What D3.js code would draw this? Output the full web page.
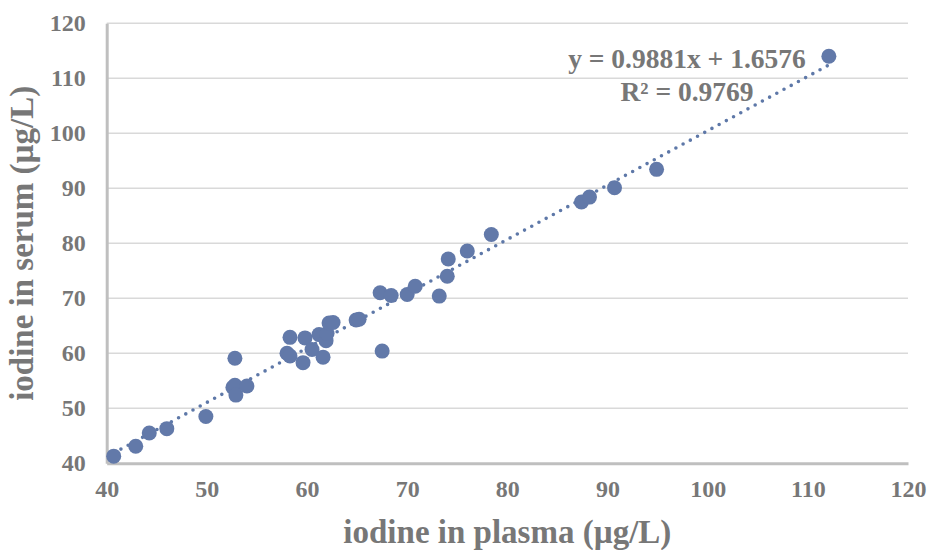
<!DOCTYPE html>
<html>
<head>
<meta charset="utf-8">
<script src="https://cdn.jsdelivr.net/npm/d3@7"></script>
<style>
  html, body { margin: 0; padding: 0; background: #ffffff; }
  svg { display: block; }
  text { font-family: "Liberation Serif", "Times New Roman", serif; font-weight: bold; fill: #777777; }
</style>
</head>
<body>
<svg id="chart" width="929" height="550"></svg>
<script>
// ---- data ----
const plasma = [40.7, 42.9, 44.25, 46.0, 49.9, 52.8, 52.6, 52.8, 52.9, 54.0,
                58.3, 59.8, 58.0, 58.3, 59.6, 60.5, 61.2, 61.6, 61.9, 62.0,
                62.2, 62.6, 64.9, 65.2, 67.3, 68.4, 70.0, 70.8, 73.2, 74.0,
                67.5, 74.1, 76.0, 78.4, 87.4, 88.2, 90.7, 94.9, 112.1];
const serum  = [41.3, 43.1, 45.5, 46.3, 48.5, 59.1, 53.8, 54.2, 52.4, 54.05,
                62.9, 62.8, 60.0, 59.5, 58.3, 60.7, 63.4, 59.3, 62.3, 63.6,
                65.5, 65.6, 66.05, 66.2, 71.0, 70.5, 70.7, 72.2, 70.4, 74.0,
                60.4, 77.15, 78.6, 81.6, 87.5, 88.4, 90.1, 93.45, 114.0];
const xTicks = [40, 50, 60, 70, 80, 90, 100, 110, 120];
const yTicks = [40, 50, 60, 70, 80, 90, 100, 110, 120];
const slope = 0.9881, intercept = 1.6576;
const eqLabel = "y = 0.9881x + 1.6576";
const r2Label = "R² = 0.9769";
const xTitle = "iodine in plasma (µg/L)";
const yTitle = "iodine in serum (µg/L)";

// ---- layout ----
const svg = d3.select("#chart");
const L = 106.7, R = 908, T = 23.3, B = 463.3;
const x = d3.scaleLinear().domain([40, 120]).range([L, R]);
const y = d3.scaleLinear().domain([40, 120]).range([B, T]);

// gridlines
svg.append("g").selectAll("line").data(yTicks.filter(d => d > 40)).join("line")
  .attr("x1", L).attr("x2", R)
  .attr("y1", d => y(d)).attr("y2", d => y(d))
  .attr("stroke", "#d9d9d9").attr("stroke-width", 1.5);

// axes
const xAxis = d3.axisBottom(x).tickValues(xTicks).tickSize(0).tickPadding(17);
const gx = svg.append("g").attr("transform", `translate(0,${B})`).call(xAxis);
gx.select(".domain").attr("stroke", "#bfbfbf").attr("stroke-width", 3);
gx.selectAll("text").attr("font-size", 24).attr("fill", "#777777")
  .attr("font-family", "Liberation Serif, Times New Roman, serif");

const yAxis = d3.axisLeft(y).tickValues(yTicks).tickSize(0).tickPadding(21);
const gy = svg.append("g").attr("transform", `translate(${L},0)`).call(yAxis);
gy.select(".domain").attr("stroke", "#bfbfbf").attr("stroke-width", 3);
gy.selectAll("text").attr("font-size", 24).attr("fill", "#777777")
  .attr("font-family", "Liberation Serif, Times New Roman, serif");

// trendline (dotted)
const xmin = d3.min(plasma), xmax = d3.max(plasma);
svg.append("line")
  .attr("x1", x(xmin)).attr("y1", y(slope * xmin + intercept))
  .attr("x2", x(xmax)).attr("y2", y(slope * xmax + intercept))
  .attr("stroke", "#5e78a8").attr("stroke-width", 3.6)
  .attr("stroke-linecap", "round").attr("stroke-dasharray", "0 8.2");

// points
svg.append("g").selectAll("circle").data(plasma.map((p, i) => [p, serum[i]])).join("circle")
  .attr("cx", d => x(d[0])).attr("cy", d => y(d[1])).attr("r", 7.5)
  .attr("fill", "#6279a9");

// equation
svg.append("text").attr("x", 687).attr("y", 68).attr("text-anchor", "middle")
  .attr("font-size", 27.5).text(eqLabel);
svg.append("text").attr("x", 687).attr("y", 101).attr("text-anchor", "middle")
  .attr("font-size", 27.5).text(r2Label);

// axis titles
svg.append("text").attr("x", (L + R) / 2).attr("y", 543).attr("text-anchor", "middle")
  .attr("font-size", 33).text(xTitle);
svg.append("text").attr("transform", `translate(33,${(T + B) / 2}) rotate(-90)`)
  .attr("text-anchor", "middle").attr("font-size", 33).text(yTitle);
</script>
</body>
</html>
